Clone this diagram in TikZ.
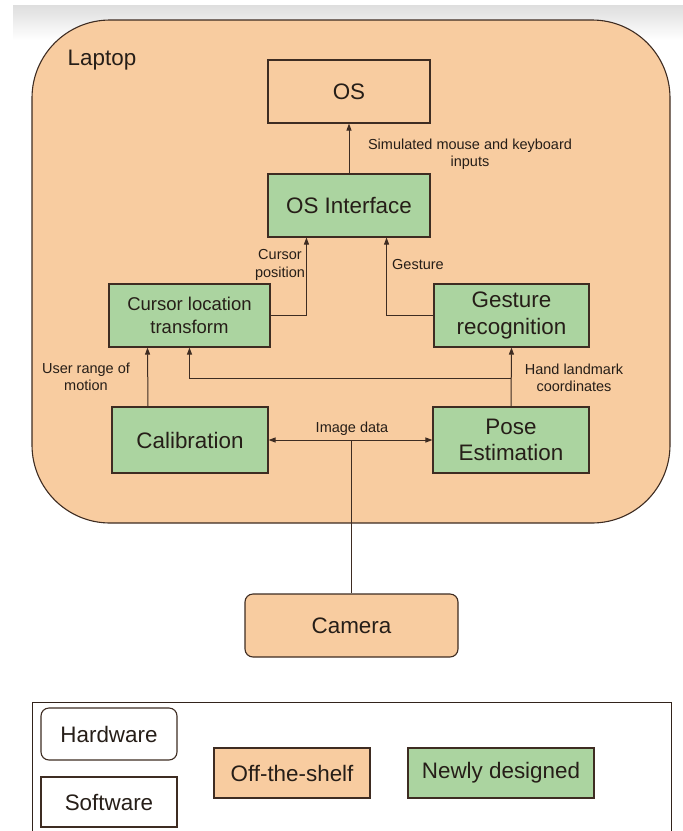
\documentclass[tikz,border=0pt]{standalone}
\usepackage{fontspec}
\setmainfont{Liberation Sans}
\usetikzlibrary{arrows.meta}
\definecolor{peach}{RGB}{248,204,160}
\definecolor{leaf}{RGB}{171,212,160}
\definecolor{edge}{RGB}{62,44,34}
\definecolor{ink}{RGB}{38,30,24}
\begin{document}
\begin{tikzpicture}[x=1pt,y=-1pt,
  box/.style={draw=edge,line width=1.1pt,inner sep=0pt,text=ink,align=center,
    font=\fontsize{22.4}{26}\selectfont},
  newbox/.style={box,fill=leaf},
  label/.style={text=ink,align=center,font=\fontsize{14.5}{17.5}\selectfont},
  link/.style={draw=edge,line width=1pt},
  arr/.style={link,-{Triangle[length=7pt,width=5pt]}}]
\useasboundingbox (0,0) rectangle (683,831);
\shade[top color=black!13,bottom color=white] (13,5) rectangle (683,40);

% laptop
\draw[draw=edge,fill=peach,line width=1.1pt,rounded corners=78pt] (32,20) rectangle (670,523);
\node[text=ink,font=\fontsize{22.4}{26}\selectfont] (laptop) at (102,60) {Laptop};

\node[box,minimum width=162pt,minimum height=63pt] (os) at (349,91.5) {OS};
\node[newbox,minimum width=162pt,minimum height=63pt] (osif) at (349,205.5) {OS Interface};
\node[newbox,minimum width=161pt,minimum height=63pt,font=\fontsize{18.5}{23}\selectfont] (cursor) at (189.5,315.5) {Cursor location\\transform};
\node[newbox,minimum width=155pt,minimum height=63pt,font=\fontsize{22.4}{27}\selectfont] (gest) at (511.5,315.5) {Gesture\\recognition};
\node[newbox,minimum width=156pt,minimum height=66pt] (calib) at (190,440) {Calibration};
\node[newbox,minimum width=156pt,minimum height=66pt] (pose) at (511,440) {Pose\\Estimation};
\node[box,fill=peach,rounded corners=8pt,minimum width=213pt,minimum height=63pt] (camera) at (351.5,625.5) {Camera};

% connectors
\draw[arr] (osif.north) -- (os.south);
\draw[arr] (cursor.east) -| ([xshift=39pt]osif.south west);
\draw[arr] (gest.west) -| ([xshift=-44pt]osif.south east);
\draw[arr] (pose.north) -- (gest.south);
\coordinate (branch) at (pose.north |- 0,378);
\draw[arr] (branch) -| (cursor.south);
\draw[arr] ([xshift=-42pt]calib.north) -- ([xshift=-42pt]cursor.south);
\draw[arr,{Triangle[length=7pt,width=5pt]}-{Triangle[length=7pt,width=5pt]}] (calib.east) -- (pose.west);
\draw[link] (camera.north) -- (camera.north |- calib.east);

\node[label] (simlbl) at (470,154) {Simulated mouse and keyboard\\inputs};
\node[label] (poslbl) at (280,265) {Cursor\\position};
\node[label] (gestlbl) at (418,265) {Gesture};
\node[label] (userlbl) at (86,377) {User range of\\motion};
\node[label] (handlbl) at (574,378) {Hand landmark\\coordinates};
\node[label] (imglbl) at (352,429) {Image data};

% legend
\draw[draw=edge!80!black,line width=1pt] (32,840) -- (32,702) -- (671,702) -- (671,840);
\node[box,rounded corners=8pt,minimum width=136pt,minimum height=52pt] (hw) at (109,734) {Hardware};
\node[box,minimum width=136pt,minimum height=50pt] (sw) at (109,802) {Software};
\node[box,fill=peach,minimum width=156pt,minimum height=50pt] (ots) at (292,773) {Off-the-shelf};
\node[newbox,minimum width=186pt,minimum height=50pt] (newd) at (501,773) {Newly designed};
\end{tikzpicture}
\end{document}
